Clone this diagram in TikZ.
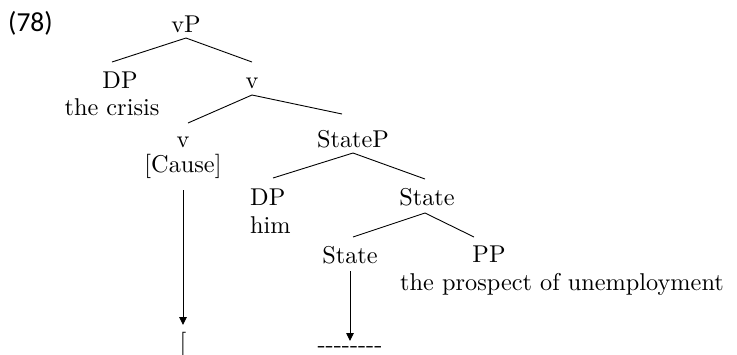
\documentclass[tikz,border=0pt]{standalone}
\usepackage{fontspec}
\setmainfont{lmroman10-regular.otf}
\newfontfamily\numfont{Carlito}
\usetikzlibrary{calc,arrows.meta}
\begin{document}
\begin{tikzpicture}[x=1pt,y=-1pt,
  lbl/.style={inner sep=0pt,anchor=base,font=\fontsize{24.3}{28}\selectfont},
  branch/.style={line width=0.9pt},
  move/.style={line width=0.9pt,-{Triangle[length=8pt,width=7.5pt]}}]
\useasboundingbox (0,0) rectangle (737,354);
% example number
\node[inner sep=0pt,anchor=base west,font=\numfont\fontsize{27.5}{30}\selectfont] (num) at (8,31) {(78)};
% tree labels
\node[lbl] (vP) at (186,32) {vP};
\node[lbl] (DPa) at (120,88) {DP};
\node[lbl] (crisis) at (112,115) {the crisis};
\node[lbl] (vbar) at (252,88) {v};
\node[lbl] (vhead) at (183,147) {v};
\node[lbl] (cause) at (183,172) {[Cause]};
\node[lbl] (StateP) at (353,147) {StateP};
\node[lbl,anchor=base west] (DPb) at (250,205) {DP};
\node[lbl,anchor=base west] (him) at (250,233) {him};
\node[lbl] (Sbar) at (427,205) {State};
\node[lbl] (Shead) at (350,263) {State};
\node[lbl] (PP) at (489,262) {PP};
\node[lbl] (prospect) at (562,290) {the prospect of unemployment};
\node[lbl] (brk) at (183,350) {[};
\node[lbl] (gap) at (350,352) {{-}{-}{-}{-}{-}{-}{-}{-}};
% branches
\draw[branch] ($(vP.base)+(0,6)$) -- ($(DPa.base)+(-8,-26)$);
\draw[branch] ($(vP.base)+(0,6)$) -- ($(vbar.base)+(0,-26)$);
\draw[branch] ($(vbar.base)+(0,7)$) -- ($(vhead.base)+(5,-24)$);
\draw[branch] ($(vbar.base)+(0,7)$) -- ($(StateP.base)+(-11,-33)$);
\draw[branch] ($(StateP.base)+(0,6)$) -- ($(DPb.base west)+(23,-27)$);
\draw[branch] ($(StateP.base)+(0,6)$) -- ($(Sbar.base)+(-2,-26)$);
\draw[branch] ($(Sbar.base)+(-2,8)$) -- ($(Shead.base)+(3,-26)$);
\draw[branch] ($(Sbar.base)+(-2,8)$) -- ($(PP.base)+(-15,-25)$);
% movement arrows
\draw[move] ($(cause.base)+(0,18)$) -- ($(brk.base)+(0,-25)$);
\draw[move] ($(Shead.base)+(0,8)$) -- ($(gap.base)+(0,-11)$);
\end{tikzpicture}
\end{document}
